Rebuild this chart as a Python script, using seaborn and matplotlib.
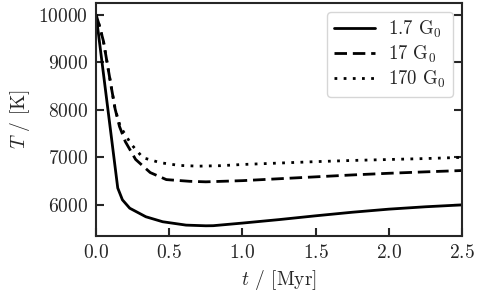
import numpy as np
import pandas as pd
import seaborn as sns
import matplotlib.pyplot as plt

# tiempos (Myr) y temperaturas (K)
t_bajo = [0.0, 0.148, 0.18, 0.23, 0.34, 0.455, 0.615, 0.75, 0.8, 1.0, 1.25, 1.5, 1.75, 2.0, 2.25, 2.5]
T_bajo = [10000, 6355, 6106, 5930, 5750, 5645, 5574, 5560, 5562, 5617, 5690, 5770, 5845, 5910, 5960, 6000]

t_medio = [0.0, 0.02, 0.05, 0.075, 0.1, 0.13, 0.16, 0.2, 0.27, 0.37, 0.48, 0.64, 0.75, 1.0, 1.25, 1.5, 1.75, 2.0, 2.25, 2.5]
T_medio = [10000, 9800, 9450, 9000, 8550, 8020, 7650, 7330, 6957, 6680, 6532, 6496, 6485, 6510, 6550, 6590, 6630, 6665, 6695, 6723]

t_alto = [0.0, 0.02, 0.05, 0.075, 0.1, 0.13, 0.165, 0.24, 0.32, 0.44, 0.57, 0.7, 0.85, 1.0, 1.25, 1.5, 1.75, 2.0, 2.25, 2.5]
T_alto = [10000, 9800, 9450, 9000, 8550, 8020, 7650, 7277, 6993, 6887, 6830, 6815, 6825, 6850, 6880, 6910, 6935, 6955, 6975, 7000]

etiquetas = ['1.7 G$_0$', '17 G$_0$', '170 G$_0$']

df = pd.concat([
    pd.DataFrame({'t': t_bajo, 'T': T_bajo, 'campo': etiquetas[0]}),
    pd.DataFrame({'t': t_medio, 'T': T_medio, 'campo': etiquetas[1]}),
    pd.DataFrame({'t': t_alto, 'T': T_alto, 'campo': etiquetas[2]}),
])

sns.set_style('ticks')
plt.rcParams['font.family'] = 'serif'
plt.rcParams['font.serif'] = ['cmr10']
plt.rcParams['mathtext.fontset'] = 'cm'
plt.rcParams['axes.formatter.use_mathtext'] = True
plt.rcParams['axes.linewidth'] = 1.5

fs = 14

fig = plt.figure(figsize=(4.78, 2.95), dpi=100)
ax = fig.add_axes([0.201, 0.2, 0.7655, 0.79])

sns.lineplot(data=df, x='t', y='T', hue='campo', style='campo',
             palette=['black'] * 3, dashes=['', (4.5, 2.1), (1, 2.3)],
             linewidth=2, ax=ax, sort=False, estimator=None)

ax.set_xlim(0, 2.5)
ax.set_ylim(5345, 10250)
ax.set_xticks([0, 0.5, 1.0, 1.5, 2.0, 2.5])
ax.set_yticks([6000, 7000, 8000, 9000, 10000])
ax.tick_params(direction='in', length=6, width=1.5, right=True, labelsize=fs, pad=6)
ax.set_xlabel('$t$ / [Myr]', fontsize=fs)
ax.set_ylabel('$T$ / [K]', fontsize=fs)

ax.legend(loc='upper right', fontsize=13.5, handlelength=2.2, handletextpad=0.7,
          title=None, borderaxespad=0.5, labelspacing=0.2, borderpad=0.35)

plt.savefig('out.png', dpi=100)
